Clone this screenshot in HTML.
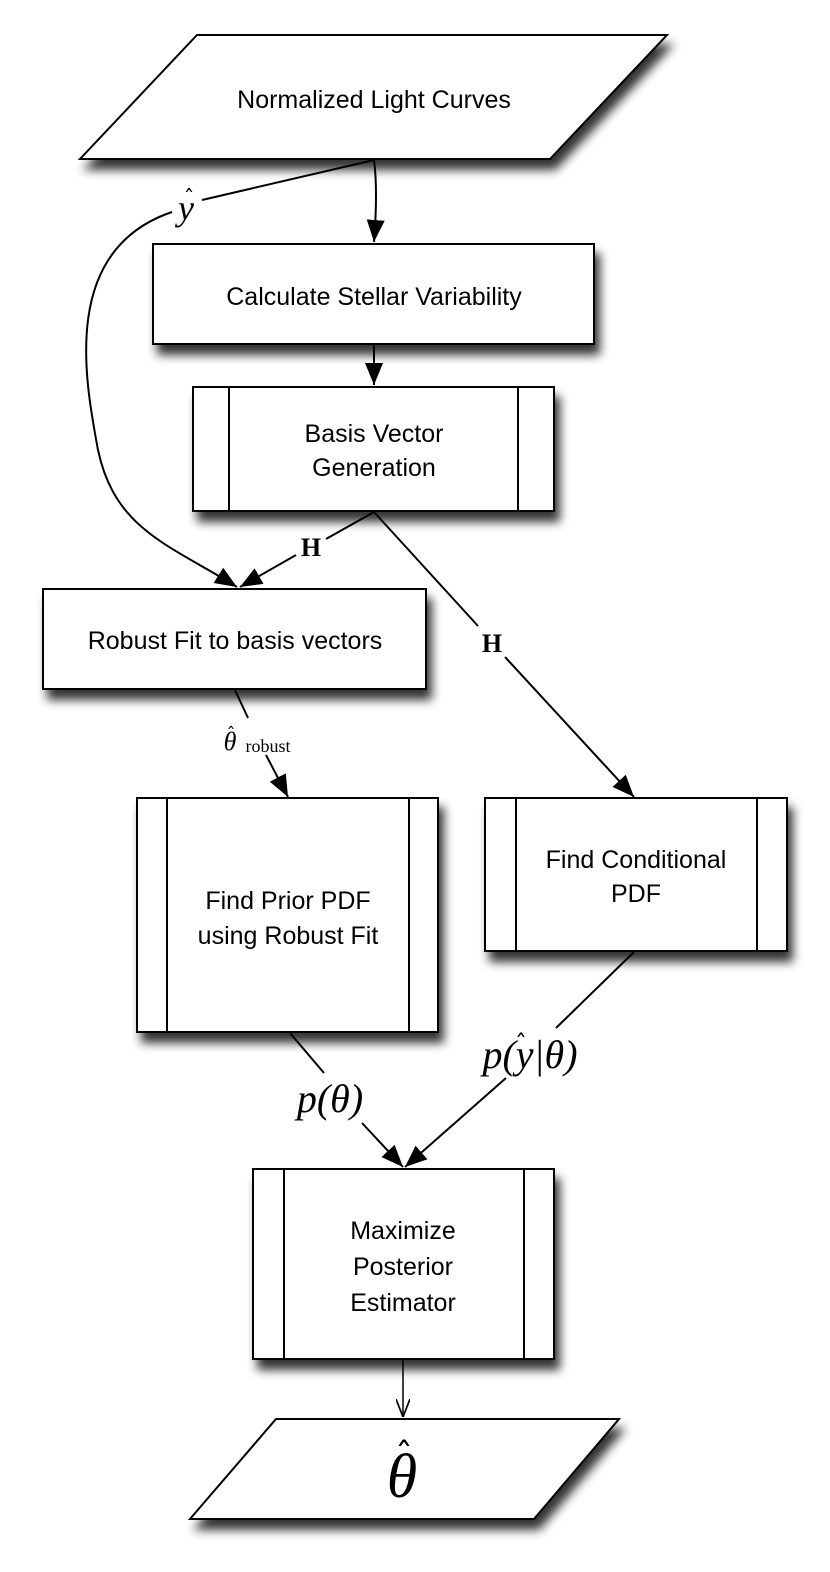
<!DOCTYPE html>
<html><head><meta charset="utf-8"><style>
html,body{margin:0;padding:0;background:#fff;}
svg{display:block;}
.t{font-family:"Liberation Sans",sans-serif;font-size:25px;fill:#000;text-anchor:middle;}
.m{font-family:"Liberation Serif",serif;font-style:italic;fill:#000;text-anchor:middle;}
.h{font-family:"DejaVu Sans",sans-serif;fill:#000;text-anchor:middle;}
.b{font-family:"Liberation Serif",serif;font-weight:bold;fill:#000;text-anchor:middle;font-size:26px;}
</style></head><body>
<svg width="830" height="1572" viewBox="0 0 830 1572" xmlns="http://www.w3.org/2000/svg">
<defs>
<filter id="sh" x="-10%" y="-10%" width="130%" height="140%">
<feGaussianBlur in="SourceAlpha" stdDeviation="5"/>
<feOffset dx="5" dy="10" result="o"/>
<feComponentTransfer><feFuncA type="linear" slope="0.8"/></feComponentTransfer>
<feMerge><feMergeNode/><feMergeNode in="SourceGraphic"/></feMerge>
</filter>
<marker id="A" viewBox="0 0 10 10" refX="10" refY="5" markerWidth="22" markerHeight="18" markerUnits="userSpaceOnUse" orient="auto" preserveAspectRatio="none">
<path d="M0,0 L10,5 L0,10 z" fill="#000"/></marker>
<marker id="o" viewBox="0 0 10 10" refX="10" refY="5" markerWidth="18" markerHeight="14" markerUnits="userSpaceOnUse" orient="auto" preserveAspectRatio="none">
<path d="M0,0 L10,5 L0,10" fill="none" stroke="#000" stroke-width="1.2"/></marker>
</defs>
<g stroke="#000" stroke-width="2" fill="#fff" filter="url(#sh)">
<polygon points="197,35 667,35 550,159 80,159"/>
<rect x="153" y="244" width="441" height="100"/>
<rect x="193" y="387" width="361" height="124"/>
<rect x="43" y="589" width="383" height="100"/>
<rect x="137" y="798" width="301" height="234"/>
<rect x="485" y="798" width="302" height="153"/>
<rect x="253" y="1169" width="301" height="190"/>
<polygon points="276,1419 619,1419 534,1519 190,1519"/>
</g>
<g stroke="#000" stroke-width="2">
<line x1="229" y1="387" x2="229" y2="511"/><line x1="518" y1="387" x2="518" y2="511"/>
<line x1="167" y1="798" x2="167" y2="1032"/><line x1="409" y1="798" x2="409" y2="1032"/>
<line x1="516" y1="798" x2="516" y2="951"/><line x1="757" y1="798" x2="757" y2="951"/>
<line x1="284" y1="1169" x2="284" y2="1359"/><line x1="524" y1="1169" x2="524" y2="1359"/>
</g>
<g stroke="#000" stroke-width="2" fill="none">
<path d="M374,160 Q378,190 374,242" marker-end="url(#A)"/>
<line x1="374" y1="345" x2="374" y2="385" marker-end="url(#A)"/>
<path d="M374,160 L202,200"/>
<path d="M172,212 C60,250 85,380 98,450 C115,530 170,545 237,587" marker-end="url(#A)"/>
<line x1="374" y1="512" x2="326" y2="539"/>
<line x1="296" y1="555" x2="240" y2="587" marker-end="url(#A)"/>
<line x1="374" y1="512" x2="478" y2="626"/>
<line x1="505" y1="657" x2="634" y2="797" marker-end="url(#A)"/>
<line x1="235" y1="690" x2="248" y2="718"/>
<line x1="266" y1="755" x2="288" y2="797" marker-end="url(#A)"/>
<line x1="290" y1="1033" x2="324" y2="1073"/>
<line x1="362" y1="1123" x2="403" y2="1167" marker-end="url(#A)"/>
<line x1="634" y1="952" x2="556" y2="1028"/>
<line x1="506" y1="1078" x2="405" y2="1167" marker-end="url(#A)"/>
<line x1="403" y1="1360" x2="403" y2="1417" stroke-width="1.5" marker-end="url(#o)"/>
</g>
<text class="t" x="374" y="108">Normalized Light Curves</text>
<text class="t" x="374" y="305">Calculate Stellar Variability</text>
<text class="t" x="374" y="442">Basis Vector</text>
<text class="t" x="374" y="476">Generation</text>
<text class="t" x="235" y="649">Robust Fit to basis vectors</text>
<text class="t" x="288" y="909">Find Prior PDF</text>
<text class="t" x="288" y="944">using Robust Fit</text>
<text class="t" x="636" y="868">Find Conditional</text>
<text class="t" x="636" y="902">PDF</text>
<text class="t" x="403" y="1239">Maximize</text>
<text class="t" x="403" y="1275">Posterior</text>
<text class="t" x="403" y="1311">Estimator</text>
<text class="m" x="186" y="220" font-size="36">y</text><text class="h" x="189" y="206" font-size="22">ˆ</text>
<text class="b" x="311" y="556">H</text>
<text class="b" x="492" y="652">H</text>
<text class="m" x="230" y="750" font-size="26">θ</text><text class="h" x="231" y="740" font-size="18">ˆ</text>
<text x="268" y="752" font-family="Liberation Serif,serif" font-size="18" text-anchor="middle">robust</text>
<text class="m" x="330" y="1112" font-size="40">p(θ)</text>
<text class="m" x="530" y="1068" font-size="40">p(y|θ)</text><text class="h" x="521" y="1052" font-size="24">ˆ</text>
<text class="m" x="402" y="1497" font-size="62">θ</text><text class="h" x="404" y="1468" font-size="36">ˆ</text>
</svg>
</body></html>
